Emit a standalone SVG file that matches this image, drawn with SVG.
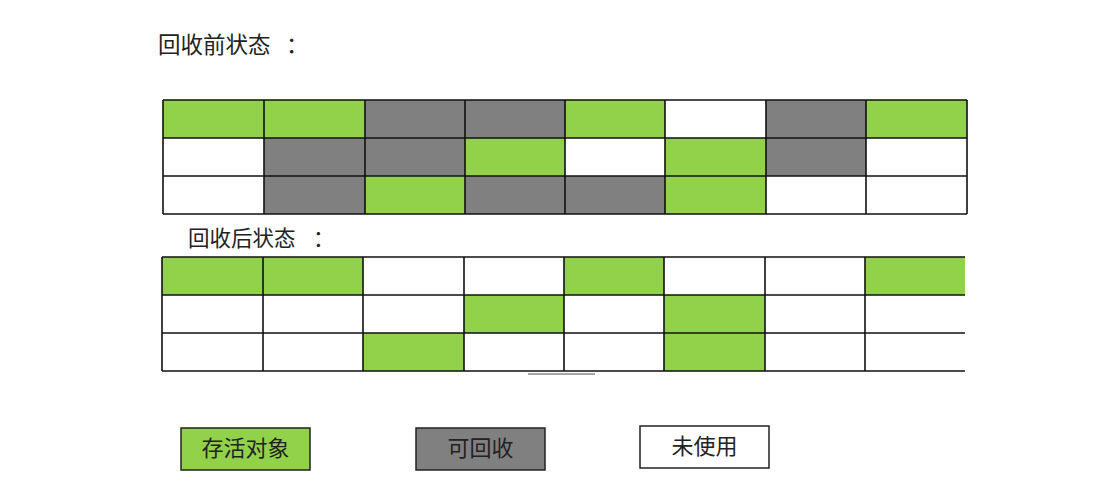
<svg xmlns="http://www.w3.org/2000/svg" width="1104" height="500" viewBox="0 0 1104 500">
<style>
.g{fill:#92d14a}
.x{fill:#808080}
.w{fill:#ffffff}
.ln{stroke:#111;stroke-width:1.6;fill:none}
.t{font-family:"Noto Sans CJK SC","Noto Sans",sans-serif;fill:#222}
</style>
<rect width="1104" height="500" fill="#fff"/>
<text class="t" x="158" y="53" font-size="22.5">回收前状态<tspan x="286">：</tspan></text>
<g id="grid-before">
<rect class="g" x="163" y="100" width="101" height="38"/><rect class="g" x="264" y="100" width="101" height="38"/><rect class="x" x="365" y="100" width="100" height="38"/><rect class="x" x="465" y="100" width="100" height="38"/><rect class="g" x="565" y="100" width="100" height="38"/><rect class="w" x="665" y="100" width="101" height="38"/><rect class="x" x="766" y="100" width="100" height="38"/><rect class="g" x="866" y="100" width="101" height="38"/>
<rect class="w" x="163" y="138" width="101" height="38"/><rect class="x" x="264" y="138" width="101" height="38"/><rect class="x" x="365" y="138" width="100" height="38"/><rect class="g" x="465" y="138" width="100" height="38"/><rect class="w" x="565" y="138" width="100" height="38"/><rect class="g" x="665" y="138" width="101" height="38"/><rect class="x" x="766" y="138" width="100" height="38"/><rect class="w" x="866" y="138" width="101" height="38"/>
<rect class="w" x="163" y="176" width="101" height="38"/><rect class="x" x="264" y="176" width="101" height="38"/><rect class="g" x="365" y="176" width="100" height="38"/><rect class="x" x="465" y="176" width="100" height="38"/><rect class="x" x="565" y="176" width="100" height="38"/><rect class="g" x="665" y="176" width="101" height="38"/><rect class="w" x="766" y="176" width="100" height="38"/><rect class="w" x="866" y="176" width="101" height="38"/>
<path class="ln" d="M163 100H967M163 138H967M163 176H967M163 214H967M163 100V214M264 100V214M365 100V214M465 100V214M565 100V214M665 100V214M766 100V214M866 100V214M967 100V214"/>
</g>
<text class="t" x="188" y="246" font-size="21.5">回收后状态<tspan x="313">：</tspan></text>
<g id="grid-after">
<rect class="g" x="162" y="257" width="101" height="38"/><rect class="g" x="263" y="257" width="100" height="38"/><rect class="w" x="363" y="257" width="101" height="38"/><rect class="w" x="464" y="257" width="100" height="38"/><rect class="g" x="564" y="257" width="100" height="38"/><rect class="w" x="664" y="257" width="101" height="38"/><rect class="w" x="765" y="257" width="100" height="38"/><rect class="g" x="865" y="257" width="100" height="38"/>
<rect class="g" x="464" y="295" width="100" height="38"/><rect class="g" x="664" y="295" width="101" height="38"/>
<rect class="g" x="363" y="333" width="101" height="38"/><rect class="g" x="664" y="333" width="101" height="38"/>
<path class="ln" d="M162 257H965M162 295H965M162 333H965M162 371H965M162 257V371M263 257V371M363 257V371M464 257V371M564 257V371M664 257V371M765 257V371M865 257V371"/>
<path d="M528 374H595" stroke="#888" stroke-width="1.5"/>
</g>
<g id="legend-live">
<rect x="181" y="428" width="129" height="42" fill="#92d14a" stroke="#222" stroke-width="1.5"/>
<text class="t" x="245.5" y="456" font-size="22" text-anchor="middle">存活对象</text>
</g>
<g id="legend-recyclable">
<rect x="416" y="428" width="129" height="42" fill="#808080" stroke="#222" stroke-width="1.5"/>
<text class="t" x="480.5" y="456" font-size="22" text-anchor="middle">可回收</text>
</g>
<g id="legend-unused">
<rect x="640" y="426" width="129" height="42" fill="#fff" stroke="#222" stroke-width="1.5"/>
<text class="t" x="704.5" y="454" font-size="22" text-anchor="middle">未使用</text>
</g>
</svg>
